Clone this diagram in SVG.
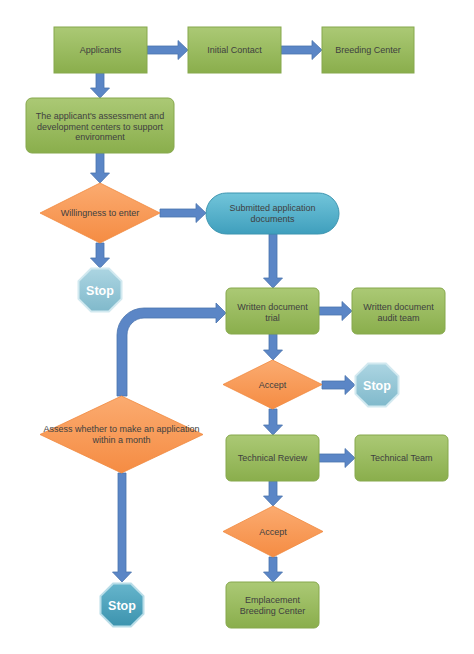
<svg xmlns="http://www.w3.org/2000/svg" width="474" height="654" viewBox="0 0 474 654">
<defs>
<linearGradient id="gGreen" x1="0" y1="0" x2="0" y2="1"><stop offset="0" stop-color="#abc975"/><stop offset="1" stop-color="#8aae4c"/></linearGradient>
<linearGradient id="gOrange" x1="0" y1="0" x2="0" y2="1"><stop offset="0" stop-color="#fbab70"/><stop offset="1" stop-color="#f58c43"/></linearGradient>
<linearGradient id="gBlue" x1="0" y1="0" x2="0" y2="1"><stop offset="0" stop-color="#72c5da"/><stop offset="1" stop-color="#3f9fbd"/></linearGradient>
<linearGradient id="gStopL" x1="0" y1="0" x2="0" y2="1"><stop offset="0" stop-color="#acd5e2"/><stop offset="1" stop-color="#80b9cb"/></linearGradient>
<linearGradient id="gStopD" x1="0" y1="0" x2="0" y2="1"><stop offset="0" stop-color="#66b5cc"/><stop offset="1" stop-color="#3c93ae"/></linearGradient>
<polygon id="oct" points="-8.9,-21.5 8.9,-21.5 21.5,-8.9 21.5,8.9 8.9,21.5 -8.9,21.5 -21.5,8.9 -21.5,-8.9"/>
</defs>
<style>
.box{fill:url(#gGreen);stroke:#86a84c;stroke-width:1}
.dia{fill:url(#gOrange);stroke:#f0883c;stroke-width:0.8}
.pill{fill:url(#gBlue);stroke:#3d95b0;stroke-width:1}
.stopL{fill:url(#gStopL);stroke:#d2e9f0;stroke-width:2}
.stopD{fill:url(#gStopD);stroke:#b9dde8;stroke-width:2}
.arr{fill:#5b86c6;stroke:#4a73ad;stroke-width:0.8}
text{font-family:"Liberation Sans",Arial,sans-serif;font-size:9px;fill:#404040;text-anchor:middle}
.st{font-size:12.5px;font-weight:bold;fill:#ffffff}
</style>
<rect width="474" height="654" fill="#ffffff"/>
<g id="connectors">
<polygon class="arr" points="147,46 178,46 178,40.5 188,50 178,59.5 178,54 147,54"/>
<polygon class="arr" points="281,46 312,46 312,40.5 322,50 312,59.5 312,54 281,54"/>
<polygon class="arr" points="96,73 104,73 104,88 109.5,88 100,98 90.5,88 96,88"/>
<polygon class="arr" points="96,153 104,153 104,173 109.5,173 100,183 90.5,173 96,173"/>
<polygon class="arr" points="160,209 196,209 196,203.5 206,213 196,222.5 196,217 160,217"/>
<polygon class="arr" points="96,243 104,243 104,258 109.5,258 100,268 90.5,258 96,258"/>
<polygon class="arr" points="269,234 277,234 277,278 282.5,278 273,288 263.5,278 269,278"/>
<polygon class="arr" points="319,307 342,307 342,301.5 352,311 342,320.5 342,315 319,315"/>
<polygon class="arr" points="269,334 277,334 277,350 282.5,350 273,360 263.5,350 269,350"/>
<polygon class="arr" points="322,381 345,381 345,375.5 355,385 345,394.5 345,389 322,389"/>
<polygon class="arr" points="269,409 277,409 277,425 282.5,425 273,435 263.5,425 269,425"/>
<polygon class="arr" points="319,454 345,454 345,448.5 355,458 345,467.5 345,462 319,462"/>
<polygon class="arr" points="269,481 277,481 277,496 282.5,496 273,506 263.5,496 269,496"/>
<polygon class="arr" points="269,557 277,557 277,572 282.5,572 273,582 263.5,572 269,572"/>
<path class="arr" d="M117,396 L117,335 A27,27 0 0 1 144,308 L216,308 L216,303 L226,313 L216,323 L216,318 L144,318 A17,17 0 0 0 127,335 L127,396 Z"/>
<polygon class="arr" points="118,473 126,473 126,572 131.5,572 122,582 112.5,572 118,572"/>
</g>
<g id="applicants"><rect class="box" x="54" y="27" width="93" height="46"/><text x="100.5" y="53">Applicants</text></g>
<g id="initial-contact"><rect class="box" x="188" y="27" width="93" height="46"/><text x="234.5" y="53">Initial Contact</text></g>
<g id="breeding-center"><rect class="box" x="322" y="27" width="92" height="46"/><text x="368" y="53">Breeding Center</text></g>
<g id="assessment"><rect class="box" x="26" y="98" width="148" height="55" rx="6"/><text x="100" y="119">The applicant's assessment and</text><text x="100" y="129.5">development centers to support</text><text x="100" y="140">environment</text></g>
<g id="willingness"><polygon class="dia" points="100,183 160,213 100,243 40,213"/><text x="100" y="216">Willingness to enter</text></g>
<g id="submitted"><rect class="pill" x="206" y="193" width="133" height="41" rx="20.5"/><text x="272.5" y="211">Submitted application</text><text x="272.5" y="222">documents</text></g>
<g id="stop1"><use href="#oct" class="stopL" transform="translate(100,290)"/><text class="st" x="100" y="294.5">Stop</text></g>
<g id="written-trial"><rect class="box" x="226" y="288" width="93" height="46" rx="5"/><text x="272.5" y="310">Written document</text><text x="272.5" y="320.5">trial</text></g>
<g id="audit-team"><rect class="box" x="352" y="288" width="93" height="46" rx="5"/><text x="398.5" y="310">Written document</text><text x="398.5" y="320.5">audit team</text></g>
<g id="accept1"><polygon class="dia" points="272.5,360 322,384.5 272.5,409 223,384.5"/><text x="272.5" y="388">Accept</text></g>
<g id="stop2"><use href="#oct" class="stopL" transform="translate(377,385)"/><text class="st" x="377" y="389.5">Stop</text></g>
<g id="assess-month"><polygon class="dia" points="121.5,396 203,434.5 121.5,473 40,434.5"/><text x="121.5" y="432">Assess whether to make an application</text><text x="121.5" y="443">within a month</text></g>
<g id="technical-review"><rect class="box" x="226" y="435" width="93" height="46" rx="5"/><text x="272.5" y="461">Technical Review</text></g>
<g id="technical-team"><rect class="box" x="355" y="435" width="93" height="46" rx="5"/><text x="401.5" y="461">Technical Team</text></g>
<g id="accept2"><polygon class="dia" points="273,506 323,531.5 273,557 223,531.5"/><text x="273" y="534.5">Accept</text></g>
<g id="emplacement"><rect class="box" x="226" y="582" width="93" height="46" rx="5"/><text x="272.5" y="603">Emplacement</text><text x="272.5" y="614">Breeding Center</text></g>
<g id="stop3"><use href="#oct" class="stopD" transform="translate(122,605)"/><text class="st" x="122" y="609.5">Stop</text></g>
</svg>
